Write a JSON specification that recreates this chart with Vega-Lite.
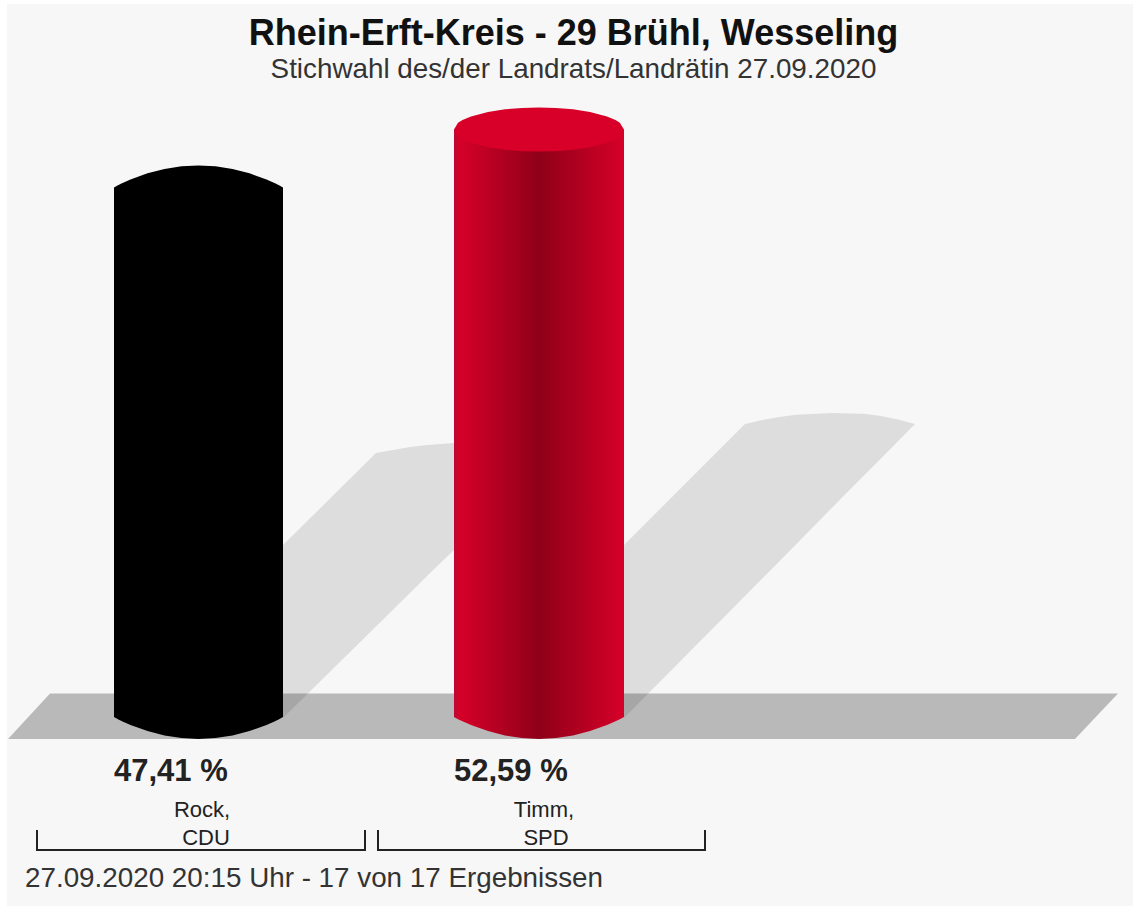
{
"$schema":"https://vega.github.io/schema/vega-lite/v6.json",
"width":1133,"height":906,"padding":0,"autosize":{"type":"none"},
"background":"#ffffff",
"title":{"text":"Rhein-Erft-Kreis - 29 Brühl, Wesseling","subtitle":"Stichwahl des/der Landrats/Landrätin 27.09.2020","anchor":"middle","frame":"group","offset":-84.5,"dx":7,"font":"Liberation Sans","fontSize":36,"fontWeight":"bold","color":"#111111","subtitleFont":"Liberation Sans","subtitleFontSize":27.8,"subtitleColor":"#333333","subtitlePadding":3},
"config":{"view":{"stroke":null}},
"datasets":{
"panel":[{"x":7,"x2":1133,"y":63.83,"y2":-16.92}],
"floor":[{"x":8,"top":-1.97,"bottom":-1.97},{"x":50,"top":2.10,"bottom":-1.97},{"x":1075,"top":2.10,"bottom":-1.97},{"x":1118,"top":2.10,"bottom":2.10}],
"shadows":[
{"c":"Rock","x":283,"top":15.40,"bottom":-0.09},{"c":"Rock","x":376,"top":23.63,"bottom":8.11},{"c":"Rock","x":393,"top":23.90,"bottom":9.61},{"c":"Rock","x":410,"top":24.17,"bottom":11.10},{"c":"Rock","x":427,"top":24.35,"bottom":12.62},{"c":"Rock","x":454,"top":24.53,"bottom":14.95},
{"c":"Timm","x":624,"top":15.40,"bottom":-0.09},{"c":"Timm","x":745,"top":26.23,"bottom":10.83},{"c":"Timm","x":762,"top":26.59,"bottom":12.38},{"c":"Timm","x":779,"top":26.86,"bottom":13.91},{"c":"Timm","x":796,"top":27.06,"bottom":15.45},{"c":"Timm","x":832,"top":27.22,"bottom":18.73},{"c":"Timm","x":864,"top":27.15,"bottom":21.61},{"c":"Timm","x":881,"top":26.95,"bottom":23.15},{"c":"Timm","x":898,"top":26.63,"bottom":24.69},{"c":"Timm","x":915,"top":26.23,"bottom":26.23}],
"shares":[{"name":"Rock","party":"CDU","share":47.41,"label":"47,41 %","x0":114,"x1":283,"label_y":-5.73},{"name":"Timm","party":"SPD","share":52.59,"label":"52,59 %","x0":454,"x1":624,"label_y":-5.73}],
"blackCap":[
{"x":114,"bot":0,"up":47.41,"lo":47.41},{"x":118,"bot":-0.19,"up":47.60,"lo":47.22},{"x":122,"bot":-0.37,"up":47.78,"lo":47.04},{"x":130.5,"bot":-0.71,"up":48.12,"lo":46.70},{"x":147.5,"bot":-1.26,"up":48.67,"lo":46.15},{"x":164.5,"bot":-1.65,"up":49.06,"lo":45.76},{"x":181.5,"bot":-1.89,"up":49.30,"lo":45.52},{"x":198.5,"bot":-1.97,"up":49.38,"lo":45.44},{"x":215.5,"bot":-1.89,"up":49.30,"lo":45.52},{"x":232.5,"bot":-1.65,"up":49.06,"lo":45.76},{"x":249.5,"bot":-1.26,"up":48.67,"lo":46.15},{"x":266.5,"bot":-0.71,"up":48.12,"lo":46.70},{"x":275,"bot":-0.37,"up":47.78,"lo":47.04},{"x":279,"bot":-0.19,"up":47.60,"lo":47.22},{"x":283,"bot":0,"up":47.41,"lo":47.41}],
"redCap":[
{"x":454,"bot":0,"up":52.59,"lo":52.59},{"x":458,"bot":-0.19,"up":53.21,"lo":51.97},{"x":462.5,"bot":-0.37,"up":53.45,"lo":51.73},{"x":471,"bot":-0.71,"up":53.77,"lo":51.41},{"x":488,"bot":-1.26,"up":54.17,"lo":51.01},{"x":505,"bot":-1.65,"up":54.40,"lo":50.78},{"x":522,"bot":-1.89,"up":54.52,"lo":50.66},{"x":539,"bot":-1.97,"up":54.56,"lo":50.62},{"x":556,"bot":-1.89,"up":54.52,"lo":50.66},{"x":573,"bot":-1.65,"up":54.40,"lo":50.78},{"x":590,"bot":-1.26,"up":54.17,"lo":51.01},{"x":607,"bot":-0.71,"up":53.77,"lo":51.41},{"x":615.5,"bot":-0.37,"up":53.45,"lo":51.73},{"x":619.8,"bot":-0.19,"up":53.21,"lo":51.97},{"x":624,"bot":0,"up":52.59,"lo":52.59}],
"brackets":[
{"c":"Rock","o":1,"x":37,"y":-10.12},{"c":"Rock","o":2,"x":37,"y":-11.91},{"c":"Rock","o":3,"x":365,"y":-11.91},{"c":"Rock","o":4,"x":365,"y":-10.12},
{"c":"Timm","o":1,"x":378,"y":-10.12},{"c":"Timm","o":2,"x":378,"y":-11.91},{"c":"Timm","o":3,"x":705,"y":-11.91},{"c":"Timm","o":4,"x":705,"y":-10.12}],
"names":[{"t":"Rock,","x":202,"y":-8.95},{"t":"CDU","x":206,"y":-11.50},{"t":"Timm,","x":544,"y":-8.95},{"t":"SPD","x":546,"y":-11.50}],
"footer":[{"t":"27.09.2020 20:15 Uhr - 17 von 17 Ergebnissen","x":25,"y":-15.22}]
},
"encoding":{
"x":{"field":"x","type":"quantitative","scale":{"domain":[0,1133],"nice":false,"zero":false},"axis":null},
"y":{"type":"quantitative","scale":{"domain":[-16.92,64.19],"nice":false,"zero":false},"axis":null}
},
"layer":[
{"data":{"name":"panel"},"mark":{"type":"rect","color":"#f7f7f7"},"encoding":{"x2":{"field":"x2"},"y":{"field":"y","type":"quantitative"},"y2":{"field":"y2"}}},
{"data":{"name":"floor"},"mark":{"type":"area","color":"#b9b9b9"},"encoding":{"y":{"field":"top","type":"quantitative"},"y2":{"field":"bottom"}}},
{"data":{"name":"shadows"},"mark":{"type":"area","color":"#000000","opacity":0.1},"transform":[{"filter":"datum.c==='Rock'"}],"encoding":{"y":{"field":"top","type":"quantitative"},"y2":{"field":"bottom"}}},
{"data":{"name":"shadows"},"mark":{"type":"area","color":"#000000","opacity":0.1},"transform":[{"filter":"datum.c==='Timm'"}],"encoding":{"y":{"field":"top","type":"quantitative"},"y2":{"field":"bottom"}}},
{"data":{"name":"blackCap"},"mark":{"type":"area","color":"#000000"},"encoding":{"y":{"field":"bot","type":"quantitative"},"y2":{"datum":0}}},
{"data":{"name":"redCap"},"mark":{"type":"area","color":{"gradient":"linear","x1":0,"x2":1,"y1":0,"y2":0,"stops":[{"offset":0,"color":"#b80a35"},{"offset":0.03,"color":"#d60029"},{"offset":0.5,"color":"#8f0018"},{"offset":1,"color":"#d60029"}]}},"encoding":{"y":{"field":"bot","type":"quantitative"},"y2":{"datum":0}}},
{"data":{"name":"shares"},"transform":[{"filter":"datum.name==='Rock'"}],"mark":{"type":"rect","color":"#000000"},"encoding":{"x":{"field":"x0","type":"quantitative"},"x2":{"field":"x1"},"y":{"field":"share","type":"quantitative"},"y2":{"datum":0}}},
{"data":{"name":"shares"},"transform":[{"filter":"datum.name==='Timm'"}],"mark":{"type":"rect","color":{"gradient":"linear","x1":0,"x2":1,"y1":0,"y2":0,"stops":[{"offset":0,"color":"#b80a35"},{"offset":0.03,"color":"#d60029"},{"offset":0.5,"color":"#8f0018"},{"offset":1,"color":"#d60029"}]}},"encoding":{"x":{"field":"x0","type":"quantitative"},"x2":{"field":"x1"},"y":{"field":"share","type":"quantitative"},"y2":{"datum":0}}},
{"data":{"name":"blackCap"},"mark":{"type":"area","color":"#000000"},"encoding":{"y":{"field":"up","type":"quantitative"},"y2":{"field":"lo"}}},
{"data":{"name":"redCap"},"mark":{"type":"area","color":"#d80029"},"encoding":{"y":{"field":"up","type":"quantitative"},"y2":{"field":"lo"}}},
{"data":{"name":"shares"},"mark":{"type":"text","font":"Liberation Sans","fontWeight":"bold","fontSize":31,"align":"left","baseline":"alphabetic","color":"#222222"},"encoding":{"x":{"field":"x0","type":"quantitative"},"y":{"field":"label_y","type":"quantitative"},"text":{"field":"label"}}},
{"data":{"name":"brackets"},"mark":{"type":"line","color":"#222222","strokeWidth":2},"encoding":{"y":{"field":"y","type":"quantitative"},"detail":{"field":"c"},"order":{"field":"o"}}},
{"data":{"name":"names"},"mark":{"type":"text","font":"Liberation Sans","fontSize":22,"align":"center","baseline":"alphabetic","color":"#222222"},"encoding":{"y":{"field":"y","type":"quantitative"},"text":{"field":"t"}}},
{"data":{"name":"footer"},"mark":{"type":"text","font":"Liberation Sans","fontSize":27.8,"align":"left","baseline":"alphabetic","color":"#333333"},"encoding":{"y":{"field":"y","type":"quantitative"},"text":{"field":"t"}}}
]
}
